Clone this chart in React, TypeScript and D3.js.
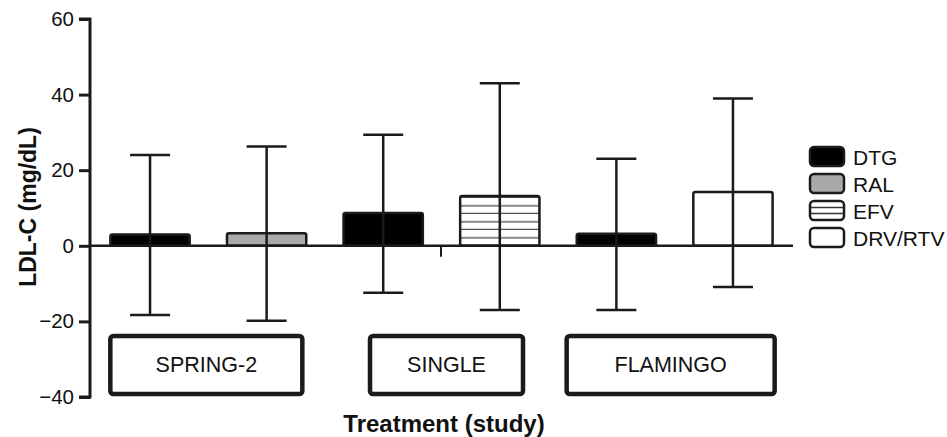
import React, { useEffect, useRef } from 'react';
import * as d3 from 'd3';

// studies and the treatment arm of each bar
const studies = ['SPRING-2', 'SINGLE', 'FLAMINGO'];
const barStudy = ['SPRING-2', 'SPRING-2', 'SINGLE', 'SINGLE', 'FLAMINGO', 'FLAMINGO'];
const barTreatment = ['DTG', 'RAL', 'DTG', 'EFV', 'DTG', 'DRV/RTV'];
// change in LDL-C (mg/dL): mean and the error bar ends
const barMean = [3, 3.3, 8.7, 13.2, 3.2, 14.2];
const barUpper = [24, 26.3, 29.4, 43, 23, 39];
const barLower = [-18.3, -19.8, -12.4, -17, -17, -10.9];
const yTicks = [-40, -20, 0, 20, 40, 60];
const legendItems = ['DTG', 'RAL', 'EFV', 'DRV/RTV'];

const WIDTH = 947;
const HEIGHT = 437;
const FONT = "'Liberation Sans', Arial, sans-serif";

const App: React.FC = () => {
  const ref = useRef<SVGSVGElement>(null);

  useEffect(() => {
    if (!ref.current) return;
    const svg = d3.select(ref.current);
    svg.selectAll('*').remove();

    const ids = barTreatment.map((t, i) => `${barStudy[i]}-${t}`);
    const x = d3.scaleBand<string>()
      .domain(ids)
      .range([90, 793])
      .paddingInner(0.32)
      .paddingOuter(0.175);
    const y = d3.scaleLinear().domain([-40, 60]).range([397, 19]);

    const fill = d3.scaleOrdinal<string, string>()
      .domain(legendItems)
      .range(['#000', '#a9a9a9', 'url(#stripes)', '#fff']);

    // horizontal stripes for EFV
    const defs = svg.append('defs');
    const pat = defs.append('pattern')
      .attr('id', 'stripes')
      .attr('patternUnits', 'userSpaceOnUse')
      .attr('width', 8)
      .attr('height', 16)
      .attr('y', y(0));
    pat.append('rect').attr('width', 8).attr('height', 16).attr('fill', '#fff');
    pat.append('rect').attr('y', 7).attr('width', 8).attr('height', 2).attr('fill', '#8a8a8a');
    pat.append('rect').attr('y', 15).attr('width', 8).attr('height', 2).attr('fill', '#222');

    const ink = '#1b1b1b';

    // y axis
    const axis = svg.append('g').attr('transform', 'translate(90,0)')
      .call(d3.axisLeft(y).tickValues(yTicks).tickSize(11).tickPadding(5)
        .tickFormat(d => (+d < 0 ? '\u2212' + Math.abs(+d) : String(d))));
    axis.select('.domain').attr('stroke', ink).attr('stroke-width', 3)
      .attr('d', `M-11,${y(60)}H0V${y(-40)}H-11`);
    axis.selectAll('.tick line').attr('stroke', ink).attr('stroke-width', 3);
    axis.selectAll('.tick text')
      .attr('font-family', FONT).attr('font-size', 20.5).attr('fill', '#111');

    // bars
    svg.append('g').selectAll('rect')
      .data(ids)
      .join('rect')
      .attr('x', d => x(d)!)
      .attr('width', x.bandwidth())
      .attr('y', (d, i) => y(barMean[i]))
      .attr('height', (d, i) => y(0) - y(barMean[i]))
      .attr('rx', 2)
      .attr('fill', (d, i) => fill(barTreatment[i]))
      .attr('stroke', ink)
      .attr('stroke-width', 2.5);

    // zero line
    svg.append('line')
      .attr('x1', 90).attr('x2', 793)
      .attr('y1', y(0)).attr('y2', y(0))
      .attr('stroke', ink).attr('stroke-width', 2.5);

    // error bars
    const cap = 20;
    const err = svg.append('g').attr('stroke', ink).attr('stroke-width', 2.5).attr('fill', 'none');
    ids.forEach((d, i) => {
      const cx = x(d)! + x.bandwidth() / 2;
      err.append('path')
        .attr('d', `M${cx},${y(barUpper[i])}V${y(barLower[i])}` +
          `M${cx - cap},${y(barUpper[i])}H${cx + cap}` +
          `M${cx - cap},${y(barLower[i])}H${cx + cap}`);
    });

    // small stray tick below the axis between SINGLE bars
    svg.append('path')
      .attr('d', `M441,${y(0)}v11`)
      .attr('stroke', ink).attr('stroke-width', 2);

    // study boxes under each pair of bars
    const boxLayout = [{ dx: -2, w: 192 }, { dx: 5, w: 153 }, { dx: -4, w: 208 }];
    studies.forEach((s, k) => {
      const pair = ids.filter((d, i) => barStudy[i] === s);
      const c = (x(pair[0])! + x(pair[pair.length - 1])! + x.bandwidth()) / 2 + boxLayout[k].dx;
      const w = boxLayout[k].w;
      svg.append('rect')
        .attr('x', c - w / 2).attr('y', 336)
        .attr('width', w).attr('height', 58)
        .attr('rx', 3)
        .attr('fill', '#fff').attr('stroke', ink).attr('stroke-width', 4.5);
      svg.append('text')
        .attr('x', c).attr('y', 372)
        .attr('text-anchor', 'middle')
        .attr('font-family', FONT).attr('font-size', 21.5).attr('fill', '#111')
        .text(s);
    });

    // axis titles
    svg.append('text')
      .attr('transform', `translate(36,${(y(60) + y(-40)) / 2 - 1}) rotate(-90)`)
      .attr('text-anchor', 'middle')
      .attr('font-family', FONT).attr('font-size', 23).attr('font-weight', 'bold').attr('fill', '#111')
      .text('LDL-C (mg/dL)');
    svg.append('text')
      .attr('x', 444).attr('y', 432)
      .attr('text-anchor', 'middle')
      .attr('font-family', FONT).attr('font-size', 24).attr('font-weight', 'bold').attr('fill', '#111')
      .text('Treatment (study)');

    // legend
    const legend = svg.append('g').attr('transform', 'translate(810,147)');
    const rows = legend.selectAll('g')
      .data(legendItems)
      .join('g')
      .attr('transform', (d, i) => `translate(0,${i * 27})`);
    rows.append('rect')
      .attr('width', 34).attr('height', 19).attr('rx', 4)
      .attr('fill', d => (d === 'EFV' ? '#fff' : fill(d)))
      .attr('stroke', ink).attr('stroke-width', 2.5);
    rows.filter(d => d === 'EFV').selectAll('line')
      .data([6.5, 12.5])
      .join('line')
      .attr('x1', 1).attr('x2', 33)
      .attr('y1', v => v).attr('y2', v => v)
      .attr('stroke', '#333').attr('stroke-width', 1.5);
    rows.append('text')
      .attr('x', 43).attr('y', 18)
      .attr('font-family', FONT).attr('font-size', 21).attr('fill', '#111')
      .text(d => d);
  }, []);

  return (
    <svg
      ref={ref}
      width={WIDTH}
      height={HEIGHT}
      style={{ position: 'absolute', left: 0, top: 0, display: 'block', background: '#fff' }}
    />
  );
};

export default App;
